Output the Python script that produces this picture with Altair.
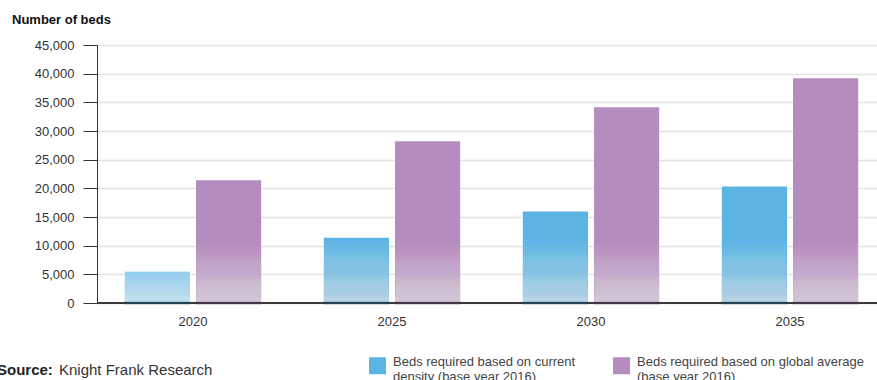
import altair as alt
import pandas as pd

years = ["2020", "2025", "2030", "2035"]
series_names = [
    "Beds required based on current|density (base year 2016)",
    "Beds required based on global average|(base year 2016)",
]
current_density = [5450, 11400, 15950, 20300]
global_average = [21400, 28200, 34150, 39200]
y_ticks = [0, 5000, 10000, 15000, 20000, 25000, 30000, 35000, 40000, 45000]

colors = ["#5cb4e4", "#b48cc0"]
dark = ["#1e4a5e", "#4a3550"]

rows = []
for y, a, b in zip(years, current_density, global_average):
    rows.append({"year": y, "series": series_names[0], "value": a})
    rows.append({"year": y, "series": series_names[1], "value": b})
df = pd.DataFrame(rows)

# white fade overlay near the base of each bar (style only), built from nested
# rects that all start at 0 so that no seams appear between them
FADE_TOP = 11000.0
STEP = 250.0
MAX_OP = 0.68
N = int(FADE_TOP / STEP)


def trans(h):
    return 1 - MAX_OP * max(0.0, 1 - h / FADE_TOP)


T = {k: trans((k - 0.5) * STEP) for k in range(1, N + 1)}
T[N + 1] = 1.0

bands = []
for r in rows:
    v = r["value"]
    for k in range(1, N + 1):
        top = k * STEP
        if top < v:
            bands.append({"year": r["year"], "series": r["series"], "hi": top,
                          "op": 1 - T[k] / T[k + 1]})
        else:
            bands.append({"year": r["year"], "series": r["series"], "hi": v,
                          "op": 1 - T[k]})
            break
bands_df = pd.DataFrame(bands)
bands_df["lo"] = 0

y_scale = alt.Scale(domain=[0, 45000], nice=False)
y_axis = alt.Axis(values=y_ticks, format=",.0f", tickSize=14, labelPadding=9,
                  labelFontSize=13, labelColor="#333333", title=None,
                  domainColor="#333333", tickColor="#333333",
                  gridColor="#e3e3e3", gridWidth=1.5)

x_enc = alt.X("year:N", title=None, sort=years,
              scale=alt.Scale(range=[-3.5, 792.5], paddingInner=0, paddingOuter=0),
              axis=alt.Axis(labelAngle=0, domain=False, ticks=False, labelPadding=12,
                            labelFontSize=13, labelColor="#333333", grid=False))
xo_enc = alt.XOffset("series:N", sort=series_names,
                     scale=alt.Scale(paddingInner=0.085, paddingOuter=0.44))

bars = alt.Chart(df).mark_bar().encode(
    x=x_enc,
    xOffset=xo_enc,
    y=alt.Y("value:Q", title=None, scale=y_scale, axis=y_axis),
    color=alt.Color("series:N", sort=series_names,
                    scale=alt.Scale(domain=series_names, range=colors),
                    legend=alt.Legend(title=None, orient="none", legendX=272, legendY=312,
                                      direction="horizontal", columns=2, columnPadding=37,
                                      symbolType="square", symbolSize=289,
                                      symbolStrokeWidth=0, symbolOpacity=1,
                                      labelExpr="split(datum.label, '|')",
                                      labelFontSize=13, labelColor="#444444",
                                      labelOffset=7, labelLimit=400,
                                      labelBaseline="alphabetic", padding=0)),
)

fade = alt.Chart(bands_df).mark_bar(color="white").encode(
    x=alt.X("year:N", sort=years),
    xOffset=alt.XOffset("series:N", sort=series_names),
    y=alt.Y("lo:Q", scale=y_scale, axis=y_axis),
    y2="hi:Q",
    opacity=alt.Opacity("op:Q", scale=None, legend=None),
)

zero = alt.Chart(df).transform_calculate(z="0").mark_rule(
    color="#3a3a3a", strokeWidth=1.5
).encode(y=alt.Y("z:Q", scale=y_scale, axis=y_axis))

under = alt.Chart(df).transform_calculate(z="0").mark_tick(thickness=2.5, size=66).encode(
    x=alt.X("year:N", sort=years),
    xOffset=alt.XOffset("series:N", sort=series_names),
    y=alt.Y("z:Q", scale=y_scale, axis=y_axis),
    color=alt.condition(f"datum.series == '{series_names[0]}'", alt.value(dark[0]), alt.value(dark[1])),
)

src_bold = alt.Chart(pd.DataFrame({"t": ["Source:"]})).mark_text(
    align="left", baseline="alphabetic", fontSize=15, fontWeight="bold", color="#222222"
).encode(x=alt.value(-100), y=alt.value(330), text="t:N")
src = alt.Chart(pd.DataFrame({"t": ["Knight Frank Research"]})).mark_text(
    align="left", baseline="alphabetic", fontSize=15, color="#333333"
).encode(x=alt.value(-38), y=alt.value(330), text="t:N")

chart = alt.layer(bars, fade, zero, under, src_bold, src).properties(
    width=780, height=258,
    title=alt.TitleParams("Number of beds", anchor="start", frame="group", fontSize=13,
                          fontWeight="bold", color="#111111", dx=-85, offset=12),
    autosize=alt.AutoSizeParams(type="none"),
    padding={"left": 97, "top": 45, "right": 0, "bottom": 77},
).configure_view(stroke=None).configure(font="Liberation Sans")

chart.save("out.html", embed_options={"renderer": "svg", "actions": False})
